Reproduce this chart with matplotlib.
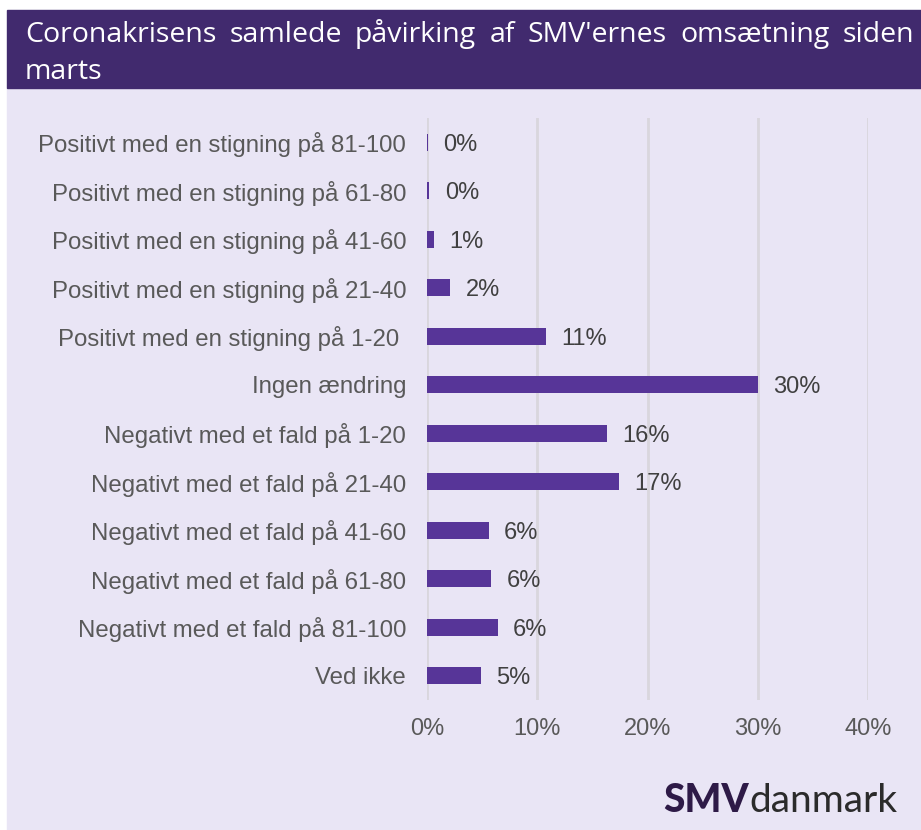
import matplotlib.pyplot as plt
from matplotlib.patches import Rectangle

# data (percent)
categories = [
    'Positivt med en stigning på 81-100',
    'Positivt med en stigning på 61-80',
    'Positivt med en stigning på 41-60',
    'Positivt med en stigning på 21-40',
    'Positivt med en stigning på 1-20 ',
    'Ingen ændring',
    'Negativt med et fald på 1-20',
    'Negativt med et fald på 21-40',
    'Negativt med et fald på 41-60',
    'Negativt med et fald på 61-80',
    'Negativt med et fald på 81-100',
    'Ved ikke',
]
values = [0.1, 0.2, 0.6, 2.1, 10.8, 30.0, 16.3, 17.4, 5.6, 5.8, 6.4, 4.9]
xticks = [0, 10, 20, 30, 40]

title_words = "Coronakrisens samlede påvirking af SMV'ernes omsætning siden".split()
title_line2 = 'marts'

bar_color = '#573598'
bg_color = '#e9e5f5'
head_color = '#412a6e'

plt.rcParams['font.family'] = ['Liberation Sans', 'DejaVu Sans']

fig = plt.figure(figsize=(9.21, 8.30), dpi=100)
W, H = 921, 830

# background panels
fig.patches.append(Rectangle((7 / W, 0), 1, 742 / H, transform=fig.transFigure,
                             color=bg_color, zorder=-2))
fig.patches.append(Rectangle((7 / W, 742 / H), 1, 78 / H, transform=fig.transFigure,
                             color=head_color, zorder=-2))

ax = fig.add_axes([427 / W, 1 - 700 / H, (868 - 427) / W, (700 - 118) / H])
ax.set_facecolor('none')
y = range(len(categories))
ax.barh(y, values, height=0.36, color=bar_color, zorder=3)
for i, v in enumerate(values):
    ax.text(v + 1.4, i, f'{round(v):.0f}%', va='center_baseline', ha='left',
            fontsize=17, color='#404040')

ax.set_ylim(len(categories) - 0.5, -0.5)
ax.set_xlim(0, 40)
ax.set_yticks(list(y))
ax.set_yticklabels(categories, fontsize=17.3, color='#595959')
ax.set_xticks(xticks)
ax.set_xticklabels([f'{t}%' for t in xticks], fontsize=17, color='#595959')
ax.tick_params(axis='y', length=0, pad=15)
ax.tick_params(axis='x', length=0, pad=13)
ax.grid(axis='x', color='#d9d6dd', linewidth=2, zorder=0)
for s in ax.spines.values():
    s.set_visible(False)

# justified title, first line
fig.canvas.draw()
r = fig.canvas.get_renderer()
x0, x1 = 25, 914
texts = [fig.text(0, 1 - 42 / H, w, color='white', fontsize=20.5,
                  family=['Open Sans', 'DejaVu Sans'], va='baseline')
         for w in title_words]
widths = [t.get_window_extent(r).width for t in texts]
gap = (x1 - x0 - sum(widths)) / (len(texts) - 1)
xpos = x0
for t, w in zip(texts, widths):
    t.set_x(xpos / W)
    xpos += w + gap
fig.text(x0 / W, 1 - 79 / H, title_line2, color='white', fontsize=20.5,
         family=['Open Sans', 'DejaVu Sans'], va='baseline')

# logo
logo1 = fig.text(663 / W, 1 - 812 / H, 'SMV', color='#2e1a47', fontsize=28,
                 fontweight='black', family=['Lato', 'DejaVu Sans'], va='baseline')
fig.canvas.draw()
lw = logo1.get_window_extent(r).width
fig.text((663 + lw + 1) / W, 1 - 812 / H, 'danmark', color='#2b2b2b', fontsize=28,
         fontweight='normal', family=['Lato', 'DejaVu Sans'], va='baseline')

fig.savefig('out.png', dpi=100)
